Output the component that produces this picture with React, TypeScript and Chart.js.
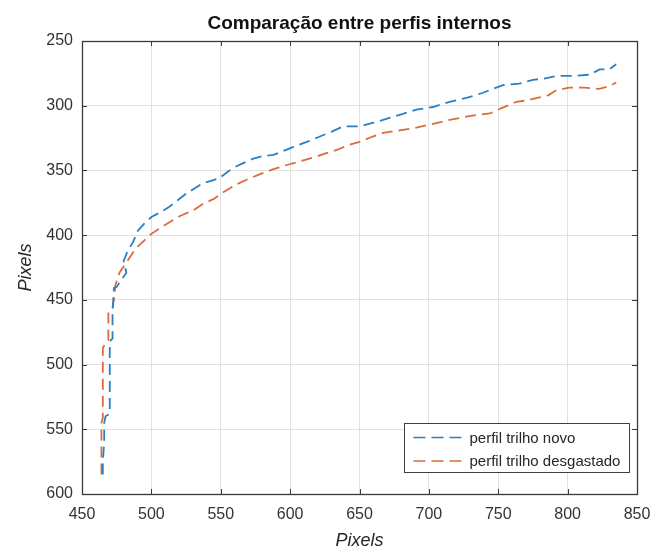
import React, { useEffect, useRef } from 'react';
import { Chart, registerables } from 'chart.js';

Chart.register(...registerables);

const TITLE = 'Comparação entre perfis internos';
const X_TITLE = 'Pixels';
const Y_TITLE = 'Pixels';
const SERIES_LABELS = ['perfil trilho novo', 'perfil trilho desgastado'];
const SERIES_COLORS = ['#2b7fc2', '#dd6b3d'];

const X_TICKS = [450, 500, 550, 600, 650, 700, 750, 800, 850];
const Y_TICKS = [250, 300, 350, 400, 450, 500, 550, 600];

// perfil trilho novo
const novoX = [465, 465, 466, 466, 467, 470, 470, 470, 470, 472, 472, 473, 475, 478, 482, 480, 483, 487, 490, 495, 500, 507, 513, 519, 525, 531, 537, 543, 549, 555, 561, 567, 573, 580, 588, 595, 602, 612, 621, 630, 638, 650, 660, 667, 679, 691, 703, 715, 727, 739, 746, 754, 765, 775, 783, 792, 805, 816, 823, 830, 835];
const novoY = [585, 575, 560, 545, 540, 538, 520, 500, 482, 480, 460, 441, 440, 435, 429, 420, 412, 405, 397, 391, 386, 382, 378, 373, 368, 364, 360, 358, 356, 351, 347, 344, 341, 339, 338, 335, 332, 328, 324, 320, 316, 316, 313, 311, 307, 303, 301, 297, 294, 290, 287, 284, 283, 280, 279, 277, 277, 276, 272, 272, 268];

// perfil trilho desgastado
const desgX = [464, 464, 464, 465, 465, 465, 465, 467, 469, 469, 469, 472, 473, 474, 477, 482, 489, 494, 500, 507, 513, 521, 530, 537, 545, 553, 561, 569, 578, 588, 597, 607, 617, 625, 634, 643, 650, 659, 667, 679, 691, 703, 715, 729, 744, 752, 763, 770, 778, 786, 792, 801, 812, 823, 830, 835];
const desgY = [585, 570, 545, 541, 520, 500, 487, 484, 481, 470, 459, 456, 450, 439, 429, 421, 410, 405, 399, 394, 390, 385, 381, 376, 372, 366, 361, 357, 353, 349, 346, 343, 340, 337, 334, 330, 328, 324, 321, 319, 317, 314, 311, 308, 306, 302, 297, 296, 294, 292, 288, 286, 286, 287, 285, 282];

const FONT = '"Liberation Sans", Arial, Helvetica, sans-serif';
const AXIS_COLOR = '#3a3a3a';

const framePlugin = {
  id: 'matlabFrame',
  afterDraw(chart: any) {
    const { ctx, chartArea: ca, scales } = chart;
    const xs = scales.x;
    const ys = scales.y;
    ctx.save();
    // title centred over the plot box
    ctx.fillStyle = '#111111';
    ctx.font = `bold 19px ${FONT}`;
    ctx.textAlign = 'center';
    ctx.textBaseline = 'middle';
    ctx.fillText(TITLE, (ca.left + ca.right) / 2, ca.top - 17);

    // inward ticks
    ctx.strokeStyle = AXIS_COLOR;
    ctx.lineWidth = 1;
    const tl = 5;
    ctx.beginPath();
    X_TICKS.forEach((v) => {
      const px = Math.round(xs.getPixelForValue(v)) + 0.5;
      ctx.moveTo(px, ca.bottom);
      ctx.lineTo(px, ca.bottom - tl);
      ctx.moveTo(px, ca.top);
      ctx.lineTo(px, ca.top + tl);
    });
    Y_TICKS.forEach((v) => {
      const py = Math.round(ys.getPixelForValue(v)) + 0.5;
      ctx.moveTo(ca.left, py);
      ctx.lineTo(ca.left + tl, py);
      ctx.moveTo(ca.right, py);
      ctx.lineTo(ca.right - tl, py);
    });
    ctx.stroke();
    // box
    ctx.lineWidth = 1.3;
    ctx.strokeRect(Math.round(ca.left) + 0.5, Math.round(ca.top) + 0.5, Math.round(ca.right - ca.left), Math.round(ca.bottom - ca.top));

    // legend inside bottom-right
    const bw = 225;
    const bh = 49;
    const bx = Math.round(ca.right - 8 - bw) + 0.5;
    const by = Math.round(ca.bottom - 22 - bh) + 0.5;
    ctx.fillStyle = '#ffffff';
    ctx.fillRect(bx, by, bw, bh);
    ctx.strokeStyle = '#404040';
    ctx.lineWidth = 1;
    ctx.strokeRect(bx, by, bw, bh);
    ctx.font = `15px ${FONT}`;
    ctx.textBaseline = 'middle';
    ctx.textAlign = 'left';
    chart.data.datasets.forEach((ds: any, i: number) => {
      const yy = by + 14 + i * 23.5;
      ctx.strokeStyle = ds.borderColor;
      ctx.lineWidth = 1.7;
      ctx.setLineDash([12, 6]);
      ctx.beginPath();
      ctx.moveTo(bx + 9, yy);
      ctx.lineTo(bx + 63, yy);
      ctx.stroke();
      ctx.setLineDash([]);
      ctx.fillStyle = '#262626';
      ctx.fillText(ds.label, bx + 65, yy + 1);
    });
    ctx.restore();
  },
};

export default function App() {
  const canvasRef = useRef<HTMLCanvasElement | null>(null);

  useEffect(() => {
    const canvas = canvasRef.current;
    if (!canvas) return;
    const toPoints = (xs: number[], ys: number[]) => xs.map((x, i) => ({ x, y: ys[i] }));
    const chart = new Chart(canvas, {
      type: 'line',
      data: {
        datasets: [
          {
            label: SERIES_LABELS[0],
            data: toPoints(novoX, novoY),
            borderColor: SERIES_COLORS[0],
            backgroundColor: SERIES_COLORS[0],
            borderWidth: 1.8,
            borderDash: [11, 6],
            pointRadius: 0,
            tension: 0,
            fill: false,
          },
          {
            label: SERIES_LABELS[1],
            data: toPoints(desgX, desgY),
            borderColor: SERIES_COLORS[1],
            backgroundColor: SERIES_COLORS[1],
            borderWidth: 1.8,
            borderDash: [11, 6],
            pointRadius: 0,
            tension: 0,
            fill: false,
          },
        ],
      },
      options: {
        animation: false,
        responsive: false,
        devicePixelRatio: 1,
        layout: { padding: { left: 0, right: 27, top: 41, bottom: 0 } },
        plugins: {
          legend: { display: false },
          tooltip: { enabled: false },
          title: { display: false },
        },
        scales: {
          x: {
            type: 'linear',
            min: 450,
            max: 850,
            afterFit: (s: any) => {
              s.height = 54;
            },
            afterBuildTicks: (s: any) => {
              s.ticks = X_TICKS.map((v) => ({ value: v }));
            },
            ticks: {
              color: '#333333',
              font: { family: FONT, size: 16, lineHeight: 1.2 },
              padding: 11.4,
              maxRotation: 0,
              autoSkip: false,
            },
            grid: { color: '#e2e2e2', lineWidth: 1, drawTicks: false },
            border: { display: false },
            title: {
              display: true,
              text: X_TITLE,
              color: '#262626',
              font: { family: FONT, size: 18, style: 'italic', lineHeight: 0.8 },
              padding: { top: 0, bottom: 0 },
            },
          },
          y: {
            type: 'linear',
            reverse: true,
            min: 250,
            max: 600,
            afterFit: (s: any) => {
              s.width = 82;
            },
            afterBuildTicks: (s: any) => {
              s.ticks = Y_TICKS.map((v) => ({ value: v }));
            },
            ticks: {
              color: '#333333',
              font: { family: FONT, size: 16, lineHeight: 1.2 },
              padding: 9,
              autoSkip: false,
            },
            grid: { color: '#e2e2e2', lineWidth: 1, drawTicks: false },
            border: { display: false },
            title: {
              display: true,
              text: Y_TITLE,
              color: '#262626',
              font: { family: FONT, size: 18, style: 'italic', lineHeight: 1.2 },
              padding: { top: 14.7, bottom: 0 },
            },
          },
        },
      },
      plugins: [framePlugin],
    } as any);
    return () => {
      chart.destroy();
    };
  }, []);

  return (
    <div style={{ position: 'fixed', left: 0, top: 0, width: 664, height: 548, background: '#ffffff' }}>
      <canvas ref={canvasRef} width={664} height={548} style={{ display: 'block', width: 664, height: 548 }} />
    </div>
  );
}
